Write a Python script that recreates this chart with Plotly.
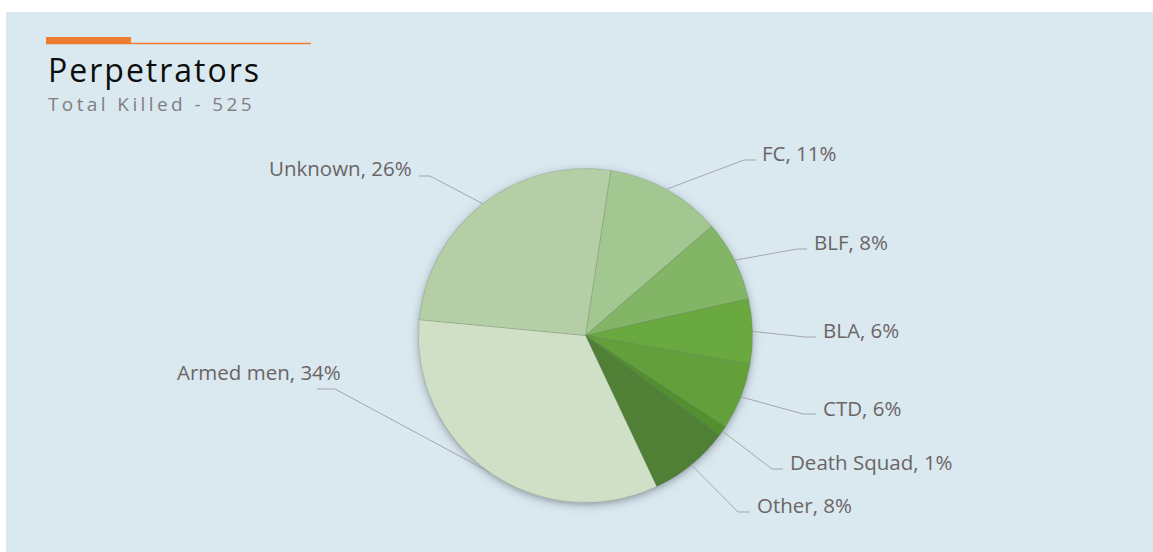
import base64
import struct
import zlib

import numpy as np
import plotly.graph_objects as go

# ---- data -------------------------------------------------------------
groups = ["FC", "BLF", "BLA", "CTD", "Death Squad", "Other", "Armed men", "Unknown"]
killed = [59, 41, 33, 34, 5, 41, 176, 136]
slice_colors = ["#a3c791", "#82b566", "#6aa840", "#63a03c", "#52902f",
                "#4f8036", "#d0e0c6", "#b4cea5"]
title_text = "Perpetrators"
subtitle_text = "Total Killed - 525"

# ---- page geometry (pixels) ----------------------------------------------
W, H = 1153, 552
CX, CY, R = 585.5, 335.5, 167.0      # pie centre and radius
ROTATION = 8.7                       # start angle, degrees clockwise from 12 o'clock

# label layout: text anchor (x, y), side, and the horizontal elbow segment (x_far, x_near, y)
label_pos = [
    (760, 153, "left", (756, 744, 160)),
    (812, 242, "left", (807, 797, 249)),
    (821, 330, "left", (816, 805, 337)),
    (821, 408, "left", (816, 803, 414)),
    (788, 462, "left", (783, 772, 469)),
    (755, 505, "left", (750, 738, 512)),
    (343, 372, "right", (317, 335, 389)),
    (414, 168, "right", (419, 430, 176)),
]

LABEL_COLOR = "#6b6565"
LEADER_COLOR = "#a6a6a6"
PANEL_COLOR = "#dae8f0"
ORANGE = "#ed7d31"


def px(x):
    return x / W


def py(y):
    return 1 - y / H


def spaced(text, gap):
    return f'<span style="letter-spacing:{gap}px">{text}</span>'


def png_uri(rgba):
    h, w, _ = rgba.shape
    raw = b"".join(b"\x00" + rgba[r].tobytes() for r in range(h))

    def chunk(tag, data):
        c = struct.pack(">I", len(data)) + tag + data
        return c + struct.pack(">I", zlib.crc32(tag + data) & 0xFFFFFFFF)

    png = (b"\x89PNG\r\n\x1a\n"
           + chunk(b"IHDR", struct.pack(">IIBBBBB", w, h, 8, 6, 0, 0, 0))
           + chunk(b"IDAT", zlib.compress(raw, 9))
           + chunk(b"IEND", b""))
    return "data:image/png;base64," + base64.b64encode(png).decode()


# soft drop shadow under the pie
pad = 24
sx0, sy0 = int(CX - R - pad), int(CY - R - pad)
sw = sh = int(2 * (R + pad))
gx, gy = np.meshgrid(np.arange(sw) + sx0 + 0.5, np.arange(sh) + sy0 + 0.5)
dist = np.hypot(gx - CX, gy - (CY + 2.5)) - R
alpha = 0.5 / (1 + np.exp(dist / 2.4))
shadow = np.zeros((sh, sw, 4), dtype=np.uint8)
shadow[..., 0] = 70
shadow[..., 1] = 80
shadow[..., 2] = 90
shadow[..., 3] = (alpha * 255).clip(0, 255).astype(np.uint8)

fig = go.Figure()
fig.add_trace(go.Pie(
    labels=groups,
    values=killed,
    sort=False,
    direction="clockwise",
    rotation=ROTATION,
    marker=dict(colors=slice_colors, line=dict(color="rgba(90,110,80,0.3)", width=0.7)),
    textinfo="none",
    hoverinfo="label+value+percent",
    showlegend=False,
    domain=dict(x=[px(CX - R), px(CX + R)], y=[py(CY + R), py(CY - R)]),
))

# leader lines from the middle of each slice's rim to its label
total = sum(killed)
shapes = []
annotations = []
cum = 0.0
for name, v, (tx, ty, anchor, (ex_far, ex_near, ey)) in zip(groups, killed, label_pos):
    mid = np.radians(ROTATION + 360.0 * (cum + v / 2) / total)
    cum += v
    rx, ry = CX + R * np.sin(mid), CY - R * np.cos(mid)
    shapes.append(dict(
        type="path", xref="paper", yref="paper", layer="above",
        path=f"M {px(rx)},{py(ry)} L {px(ex_near)},{py(ey)} L {px(ex_far)},{py(ey)}",
        line=dict(color=LEADER_COLOR, width=1),
    ))
    pct = round(100 * v / total)
    annotations.append(dict(
        text=f"{name}, {pct}%", x=px(tx), y=py(ty), xref="paper", yref="paper",
        xanchor=anchor, yanchor="middle", showarrow=False,
        font=dict(family="Open Sans", size=20.5, color=LABEL_COLOR),
    ))

# white page border above and to the left of the panel
shapes += [
    dict(type="rect", xref="paper", yref="paper", x0=0, x1=1, y0=py(12), y1=1,
         fillcolor="white", line=dict(width=0), layer="below"),
    dict(type="rect", xref="paper", yref="paper", x0=0, x1=px(6), y0=0, y1=1,
         fillcolor="white", line=dict(width=0), layer="below"),
    # title accent: thick orange tab with a thin rule
    dict(type="rect", xref="paper", yref="paper", x0=px(46), x1=px(131), y0=py(44.3), y1=py(37),
         fillcolor=ORANGE, line=dict(width=0)),
    dict(type="rect", xref="paper", yref="paper", x0=px(131), x1=px(311), y0=py(44.3), y1=py(42.8),
         fillcolor=ORANGE, line=dict(width=0)),
]

annotations += [
    dict(text=spaced(title_text, 2), x=px(46), y=py(69), xref="paper", yref="paper",
         xanchor="left", yanchor="middle", showarrow=False,
         font=dict(family="Open Sans", size=32, color="#0d0d0d")),
    dict(text=spaced(subtitle_text, 3.4), x=px(46), y=py(104), xref="paper", yref="paper",
         xanchor="left", yanchor="middle", showarrow=False,
         font=dict(family="Open Sans", size=19, color="#7f7f7f")),
]

fig.update_layout(
    width=W, height=H,
    margin=dict(l=0, r=0, t=0, b=0),
    paper_bgcolor=PANEL_COLOR,
    plot_bgcolor=PANEL_COLOR,
    shapes=shapes,
    annotations=annotations,
    images=[dict(source=png_uri(shadow), xref="paper", yref="paper",
                 x=px(sx0), y=py(sy0), sizex=sw / W, sizey=sh / H,
                 xanchor="left", yanchor="top", sizing="stretch", layer="below")],
)

fig.write_html("out.html")
